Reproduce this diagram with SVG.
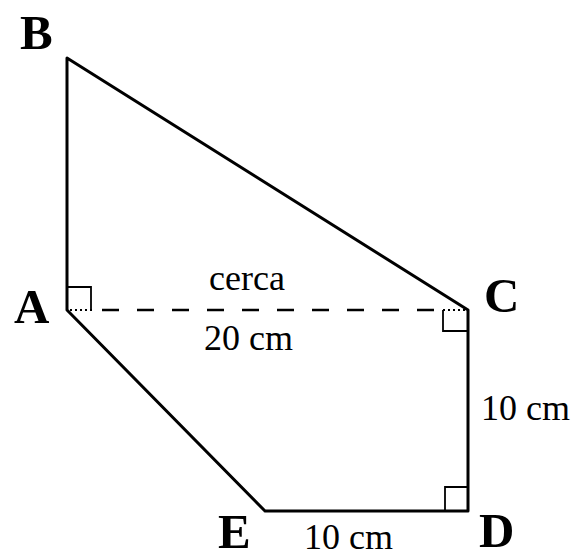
<svg xmlns="http://www.w3.org/2000/svg" width="576" height="559" viewBox="0 0 576 559">
<style>
.edge{fill:none;stroke:#000;stroke-width:3;stroke-linejoin:round;stroke-linecap:round}
.dash{fill:none;stroke:#000;stroke-width:2.5;stroke-dasharray:17 18}
.ra{fill:none;stroke:#000;stroke-width:1.8}
.lbl{font-family:"Liberation Serif",serif;font-weight:bold;font-size:49px;fill:#000}
.dim{font-family:"Liberation Serif",serif;font-size:36px;fill:#000}
</style>
<rect width="576" height="559" fill="#fff"/>
<g id="connectors">
<polyline class="edge" points="265,511 67,310 67,58 468,310 468,511 265,511"/>
<line class="dash" x1="102" y1="310" x2="440" y2="310"/>
<line x1="70" y1="310" x2="92" y2="310" stroke="#000" stroke-width="2" stroke-dasharray="2 3"/>
<line x1="443" y1="310" x2="466" y2="310" stroke="#000" stroke-width="2" stroke-dasharray="2 3"/>
<polyline class="ra" points="67,287 91,287 91,310"/>
<polyline class="ra" points="443,310 443,331 468,331"/>
<polyline class="ra" points="445,511 445,487 468,487"/>
</g>
<g id="B"><text class="lbl" x="20" y="49">B</text></g>
<g id="A"><text class="lbl" x="14" y="323">A</text></g>
<g id="C"><text class="lbl" x="484" y="312">C</text></g>
<g id="D"><text class="lbl" x="479" y="547">D</text></g>
<g id="E"><text class="lbl" x="218" y="548">E</text></g>
<g id="labels">
<text class="dim" x="209" y="290">cerca</text>
<text class="dim" x="204" y="350">20 cm</text>
<text class="dim" x="481" y="420">10 cm</text>
<text class="dim" x="304" y="549">10 cm</text>
</g>
</svg>
